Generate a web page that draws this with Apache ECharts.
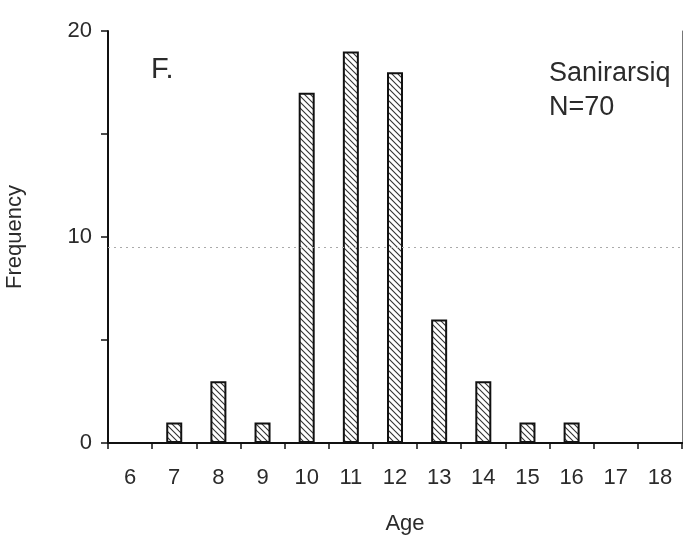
<!DOCTYPE html>
<html>
<head>
<meta charset="utf-8">
<title>Sanirarsiq age distribution</title>
<script src="https://cdn.jsdelivr.net/npm/echarts@6/dist/echarts.min.js"></script>
<style>
  html, body { margin: 0; padding: 0; background: #fff; }
  #chart { width: 687px; height: 536px; }
</style>
</head>
<body>
<div id="chart"></div>
<script>
// Age classes (years) and number of individuals in each
const ages = ['6', '7', '8', '9', '10', '11', '12', '13', '14', '15', '16', '17', '18'];
const frequency = [0, 1, 3, 1, 17, 19, 18, 6, 3, 1, 1, 0, 0];
const yTickLabels = [0, 10, 20];
const panelLabel = 'F.';
const siteLabel = 'Sanirarsiq';
const sampleLabel = 'N=70';

const FONT = '"Liberation Sans", Arial, Helvetica, sans-serif';
const TEXT = '#2b2b2b';

// Diagonal hatch fill for the bars
function hatchPattern() {
  const c = document.createElement('canvas');
  c.width = 6; c.height = 6;
  const g = c.getContext('2d');
  g.fillStyle = '#ffffff';
  g.fillRect(0, 0, 6, 6);
  g.strokeStyle = '#333333';
  g.lineWidth = 1.1;
  g.beginPath();
  g.moveTo(0, 0); g.lineTo(6, 6);
  g.moveTo(-3, 3); g.lineTo(3, 9);
  g.moveTo(3, -3); g.lineTo(9, 3);
  g.stroke();
  return c;
}

const chart = echarts.init(document.getElementById('chart'), null, { renderer: 'canvas' });

chart.setOption({
  backgroundColor: '#ffffff',
  animation: false,
  grid: { left: 108, right: 5, top: 31, bottom: 93, containLabel: false, outerBoundsMode: 'none' },
  xAxis: [
    {
      type: 'category',
      data: ages,
      boundaryGap: true,
      position: 'bottom',
      name: 'Age',
      nameLocation: 'middle',
      nameGap: 70,
      nameTextStyle: { fontFamily: FONT, fontSize: 22, color: TEXT, padding: [0, 0, 0, 20] },
      axisLine: { show: true, lineStyle: { color: '#111', width: 2 } },
      axisTick: { show: true, alignWithLabel: false, length: 6, inside: false, lineStyle: { color: '#111', width: 1.5 } },
      axisLabel: { fontFamily: FONT, fontSize: 22, color: TEXT, margin: 24 },
      splitLine: { show: false }
    },
    {
      type: 'category',
      data: ages,
      position: 'top',
      axisLine: { show: true, lineStyle: { color: '#111', width: 2 } },
      axisTick: { show: false },
      axisLabel: { show: false },
      splitLine: { show: false }
    }
  ],
  yAxis: [
    {
      type: 'value',
      min: 0,
      max: 20,
      interval: 5,
      position: 'left',
      name: 'Frequency',
      nameLocation: 'middle',
      nameGap: 82,
      nameTextStyle: { fontFamily: FONT, fontSize: 22, color: TEXT },
      axisLine: { show: true, lineStyle: { color: '#111', width: 2 } },
      axisTick: { show: true, length: 7, inside: false, lineStyle: { color: '#111', width: 1.5 } },
      axisLabel: {
        fontFamily: FONT, fontSize: 22, color: TEXT, margin: 16,
        formatter: v => (yTickLabels.indexOf(v) >= 0 ? String(v) : '')
      },
      splitLine: { show: false }
    },
    {
      type: 'value',
      min: 0,
      max: 20,
      interval: 5,
      position: 'right',
      axisLine: { show: true, lineStyle: { color: '#777', width: 1 } },
      axisTick: { show: false },
      axisLabel: { show: false },
      splitLine: { show: false }
    }
  ],
  series: [
    {
      type: 'bar',
      data: frequency,
      xAxisIndex: 0,
      yAxisIndex: 0,
      barWidth: 16,
      itemStyle: {
        color: { image: hatchPattern(), repeat: 'repeat' },
        borderColor: '#111',
        borderWidth: 2
      },
      markLine: {
        silent: true,
        symbol: 'none',
        label: { show: false },
        lineStyle: { color: '#aaaaaa', type: [2, 4], width: 1 },
        data: [{ yAxis: 9.5 }]
      }
    }
  ],
  graphic: [
    {
      type: 'text',
      left: 151,
      top: 55,
      style: { text: panelLabel, font: '29px ' + FONT, fill: TEXT }
    },
    {
      type: 'text',
      left: 549,
      top: 57,
      style: { text: siteLabel + '\n' + sampleLabel, font: '27px ' + FONT, fill: TEXT, lineHeight: 34 }
    }
  ]
});
</script>
</body>
</html>
